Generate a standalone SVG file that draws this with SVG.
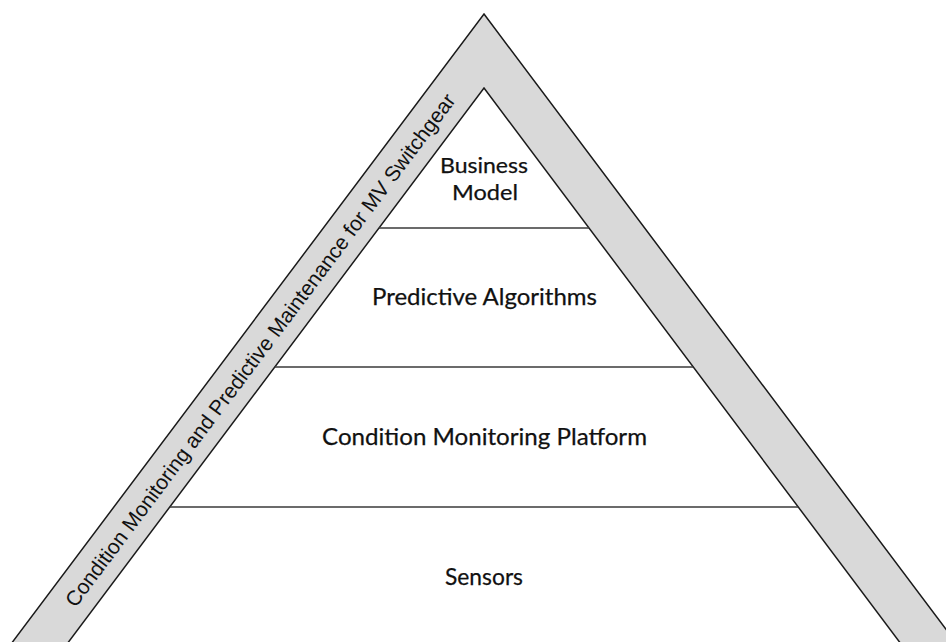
<svg xmlns="http://www.w3.org/2000/svg" width="946" height="642" viewBox="0 0 946 642">
  <style>
    .band { fill: #d9d9d9; stroke: #1a1a1a; stroke-width: 1.5; stroke-linejoin: miter; }
    .core { fill: #ffffff; stroke: #1a1a1a; stroke-width: 1.5; }
    .divider { stroke: #3a3a3a; stroke-width: 1.6; fill: none; }
    .layer { font-family: Lato, "Open Sans", "Noto Sans", sans-serif; font-size: 24px; fill: #111111; text-anchor: middle; stroke: #111111; stroke-width: 0.25; }
    .top { font-size: 22px; }
    .side { font-family: "Liberation Sans", Arial, sans-serif; font-size: 21px; fill: #111111; text-anchor: middle; dominant-baseline: central; }
  </style>

  <rect width="946" height="642" fill="#ffffff"/>

  <!-- outer grey frame of the pyramid -->
  <g id="frame">
    <polygon class="band" points="484,14 969,660 -1,660"/>
    <text class="side" x="260" y="350" transform="rotate(-53.13 260 350)">Condition Monitoring and Predictive Maintenance for MV Switchgear</text>
  </g>

  <!-- inner white pyramid -->
  <polygon class="core" points="484,88 913,660 55,660"/>

  <!-- layer dividers -->
  <g id="connectors">
    <line class="divider" x1="379" y1="228" x2="589" y2="228"/>
    <line class="divider" x1="274.75" y1="367" x2="693.25" y2="367"/>
    <line class="divider" x1="169.75" y1="507" x2="798.25" y2="507"/>
  </g>

  <g id="business-model">
    <text class="layer top"><tspan x="484" y="173" textLength="88" lengthAdjust="spacingAndGlyphs">Business</tspan><tspan x="485" y="200" textLength="66" lengthAdjust="spacingAndGlyphs">Model</tspan></text>
  </g>

  <g id="predictive-algorithms">
    <text class="layer" x="484.5" y="305" textLength="225" lengthAdjust="spacingAndGlyphs">Predictive Algorithms</text>
  </g>

  <g id="condition-monitoring-platform">
    <text class="layer" x="484.5" y="445" textLength="325" lengthAdjust="spacingAndGlyphs">Condition Monitoring Platform</text>
  </g>

  <g id="sensors">
    <text class="layer" x="484" y="584.5" textLength="78" lengthAdjust="spacingAndGlyphs">Sensors</text>
  </g>
</svg>
